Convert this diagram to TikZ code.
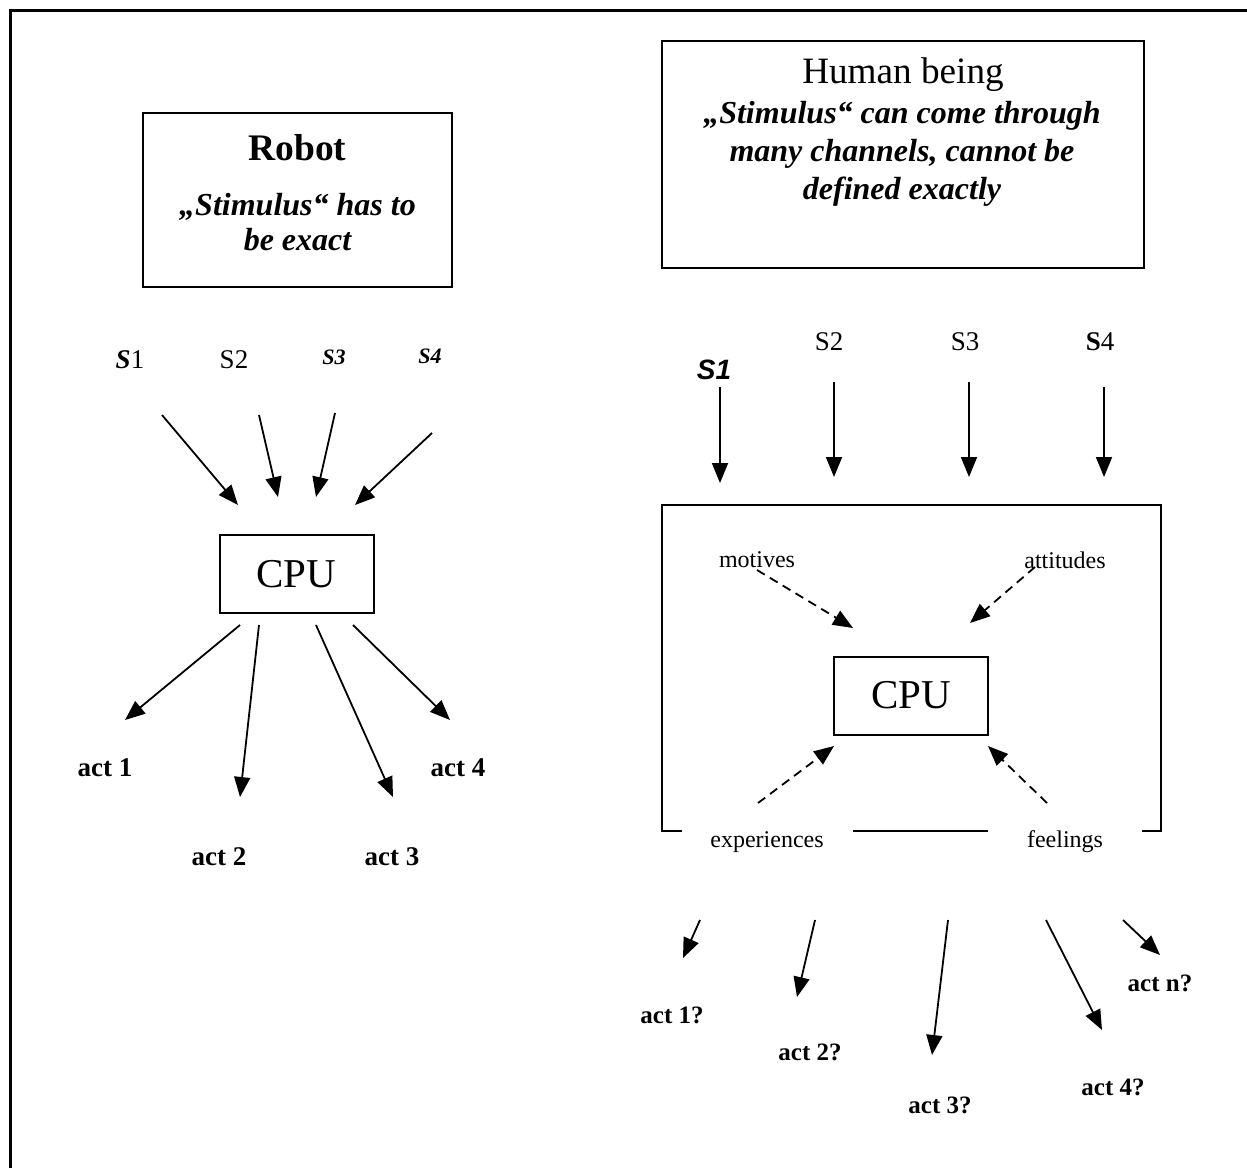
\documentclass[tikz,border=0pt]{standalone}
\usepackage{fontspec}
\setmainfont{Liberation Serif}
\newfontfamily\arialfont{Liberation Sans}
\usetikzlibrary{arrows.meta}

\tikzset{
  box/.style={draw, line width=1pt, inner sep=0pt},
  arr/.style={-{Triangle[length=10pt,width=8pt]}, line width=0.9pt},
  dasharr/.style={arr, dash pattern=on 4.5pt off 3pt},
  stim/.style={font=\fontsize{13.5pt}{16pt}\selectfont},
  note/.style={font=\fontsize{12pt}{14pt}\selectfont},
  act/.style={font=\fontsize{13.5pt}{16pt}\selectfont\bfseries},
  actq/.style={font=\fontsize{12.5pt}{15pt}\selectfont\bfseries},
  cpu/.style={box, font=\fontsize{20.5pt}{24pt}\selectfont, minimum width=77pt, minimum height=39pt}
}

\begin{document}
\begin{tikzpicture}[x=0.5pt,y=-0.5pt]
    \useasboundingbox (0,0) rectangle (1247,1168);
    % frame
    \draw[line width=1.5pt] (10,1168) -- (10,10) -- (1247,10);

    % robot header box
    \node[box, minimum width=154.5pt, minimum height=87pt] (robotbox) at (297.5,200) {};
    \node[inner sep=0pt, anchor=north, font=\fontsize{18.75pt}{22pt}\selectfont\bfseries] (robot) at (297.5,134) {Robot};
    \node[inner sep=0pt, anchor=north, align=center, font=\fontsize{16pt}{17.5pt}\selectfont\bfseries\itshape] (robottxt) at (297.5,193) {„Stimulus“ has to\\be exact};

    % human header box
    \node[box, minimum width=241pt, minimum height=113.5pt] (humanbox) at (903,154.5) {};
    \node[inner sep=0pt, anchor=north, font=\fontsize{18.6pt}{20pt}\selectfont] (human) at (903,57) {Human being};
    \node[inner sep=0pt, anchor=north, align=center, font=\fontsize{16pt}{19pt}\selectfont\bfseries\itshape] (humantxt) at (902,101) {„Stimulus“ can come through\\many channels, cannot be\\defined exactly};

    % robot stimuli and cpu
    \node[stim] (ls1) at (130,360) {\textbf{\textit{S}}1};
    \node[stim] (ls2) at (234,360) {S2};
    \node[font=\fontsize{11pt}{13pt}\selectfont\bfseries\itshape] (ls3) at (334,357) {S3};
    \node[font=\fontsize{11pt}{13pt}\selectfont\bfseries\itshape] (ls4) at (430,356) {S4};
    \node[cpu] (lcpu) at (296.5,574) {CPU};

    \foreach \n/\xa/\ya/\xb/\yb in {
        li1/162/415/238/505,
        li2/259/415/278/497,
        li3/335/413/316/497,
        li4/432/433/355/505,
        lo1/240/625/125/720,
        lo2/259/625/240/797,
        lo3/316/625/393/797,
        lo4/353/625/450/720} {
            \coordinate (\n a) at (\xa,\ya);
            \coordinate (\n b) at (\xb,\yb);
            \draw[arr] (\n a) -- (\n b);
    }

    \node[act] (lact1) at (105,768) {act 1};
    \node[act] (lact2) at (219,857) {act 2};
    \node[act] (lact3) at (392,857) {act 3};
    \node[act] (lact4) at (458,768) {act 4};

    % human stimuli
    \node[font=\fontsize{14pt}{16pt}\selectfont\arialfont\bfseries\itshape] (rs1) at (714,370) {S1};
    \node[stim] (rs2) at (829,342) {S2};
    \node[stim] (rs3) at (965,342) {S3};
    \node[stim] (rs4) at (1100,342) {\textbf{S}4};

    % open box round the cpu
    \draw[line width=1pt] (682,831) -- (662,831) -- (662,505) -- (1161,505) -- (1161,831) -- (1142,831);
    \draw[line width=1pt] (853,831) -- (988,831);
    \node[cpu] (rcpu) at (911,695.5) {CPU};

    \node[note] (motives) at (757,560) {motives};
    \node[note] (attitudes) at (1065,560) {attitudes};
    \node[note] (experiences) at (767,842) {experiences};
    \node[note] (feelings) at (1065,842) {feelings};

    \foreach \n/\xa/\ya/\xb/\yb in {
        ri1/720/387/720/483,
        ri2/834/382/834/477,
        ri3/969/382/969/477,
        ri4/1104/387/1104/477,
        ro1/700/920/683/958,
        ro2/815/920/797/997,
        ro3/948/920/932/1055,
        ro4/1046/920/1102/1030,
        ro5/1123/920/1160/955} {
            \coordinate (\n a) at (\xa,\ya);
            \coordinate (\n b) at (\xb,\yb);
            \draw[arr] (\n a) -- (\n b);
    }

    % influences on the cpu
    \foreach \n/\xa/\ya/\xb/\yb in {
        mo/757/570/853/628,
        at/1035/567/970/623,
        ex/758/803/834/746,
        fe/1047/803/988/746} {
            \coordinate (\n a) at (\xa,\ya);
            \coordinate (\n b) at (\xb,\yb);
            \draw[dasharr] (\n a) -- (\n b);
    }

    \node[actq] (ract1) at (672,1015) {act 1?};
    \node[actq] (ract2) at (810,1052) {act 2?};
    \node[actq] (ract3) at (940,1105) {act 3?};
    \node[actq] (ract4) at (1113,1087) {act 4?};
    \node[actq] (ractn) at (1160,983) {act n?};
\end{tikzpicture}
\end{document}
